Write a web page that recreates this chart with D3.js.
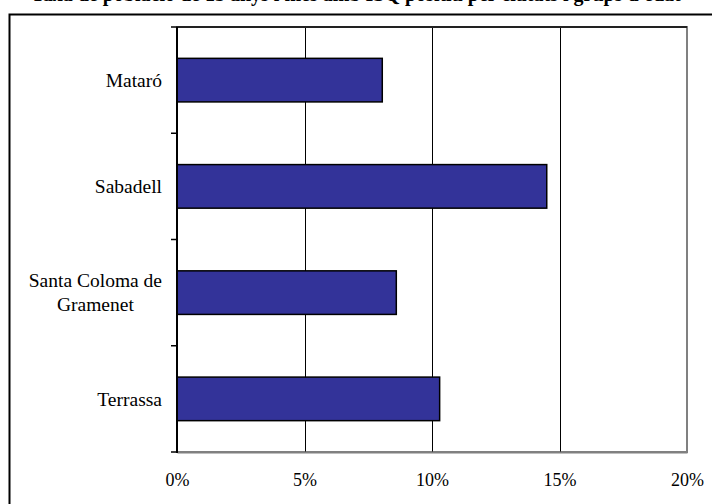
<!DOCTYPE html>
<html>
<head>
<meta charset="utf-8">
<script src="https://cdn.jsdelivr.net/npm/d3@7"></script>
<style>
  html, body { margin: 0; padding: 0; background: #fff; overflow: hidden; }
  svg { display: block; }
  text { font-family: "Liberation Serif", "Times New Roman", serif; }
</style>
</head>
<body>
<svg id="chart" width="712" height="504"></svg>
<script>
const title = "Taxa de població de 15 anys i més amb ISQ positiu per ciutats i grups d'edat";
const categories = ["Mataró", "Sabadell", "Santa Coloma de Gramenet", "Terrassa"];
const categoryLines = [["Mataró"], ["Sabadell"], ["Santa Coloma de", "Gramenet"], ["Terrassa"]];
const values = [8.05, 14.5, 8.6, 10.3];
const xTicks = [0, 5, 10, 15, 20];
const xTickLabels = ["0%", "5%", "10%", "15%", "20%"];

const svg = d3.select("#chart");
const plot = { left: 177, right: 687, top: 27, bottom: 452 };

// title (cut off at top of picture, as in the reference)
svg.append("text")
  .attr("x", 356).attr("y", 1)
  .attr("text-anchor", "middle")
  .attr("font-size", 20).attr("font-weight", "bold")
  .text(title);

// outer frame
svg.append("rect")
  .attr("x", 9.5).attr("y", 14.5)
  .attr("width", 720).attr("height", 520)
  .attr("fill", "none").attr("stroke", "#000").attr("stroke-width", 2);

const x = d3.scaleLinear().domain([0, 20]).range([plot.left, plot.right]);
const y = d3.scaleBand().domain(categories).range([plot.top, plot.bottom]).paddingInner(0).paddingOuter(0);

// plot area border
svg.append("rect")
  .attr("x", plot.left).attr("y", plot.top)
  .attr("width", plot.right - plot.left).attr("height", plot.bottom - plot.top)
  .attr("fill", "#fff").attr("stroke", "#808080").attr("stroke-width", 2);

// gridlines
svg.append("g").selectAll("line")
  .data(xTicks.filter(d => d > 0 && d < 20))
  .join("line")
  .attr("x1", d => Math.round(x(d)) + 0.5).attr("x2", d => Math.round(x(d)) + 0.5)
  .attr("y1", plot.top).attr("y2", plot.bottom)
  .attr("stroke", "#000").attr("stroke-width", 1);

// top border darker
svg.append("line")
  .attr("x1", plot.left).attr("x2", plot.right)
  .attr("y1", plot.top).attr("y2", plot.top)
  .attr("stroke", "#222").attr("stroke-width", 2);

// bars
const barH = y.bandwidth() * 0.41;
svg.append("g").selectAll("rect")
  .data(categories)
  .join("rect")
  .attr("x", x(0))
  .attr("y", (d) => y(d) + y.bandwidth() / 2 - barH / 2)
  .attr("width", (d, i) => x(values[i]) - x(0))
  .attr("height", barH)
  .attr("fill", "#333399")
  .attr("stroke", "#000").attr("stroke-width", 1.5);

// x axis (no ticks), labels
const xAxis = d3.axisBottom(x).tickValues(xTicks)
  .tickFormat((d, i) => xTickLabels[i]).tickSize(0).tickPadding(21);
const gx = svg.append("g").attr("transform", `translate(0,${plot.bottom})`).call(xAxis);
gx.select(".domain").attr("stroke", "#808080").attr("stroke-width", 2);
gx.selectAll("text").attr("font-family", "Liberation Serif, serif").attr("font-size", 18).attr("fill", "#000");

// y axis: category boundary ticks
const bounds = categories.map(c => y(c)).concat([plot.bottom]);
svg.append("line")
  .attr("x1", plot.left).attr("x2", plot.left)
  .attr("y1", plot.top).attr("y2", plot.bottom + 1)
  .attr("stroke", "#000").attr("stroke-width", 2);
svg.append("g").selectAll("line")
  .data(bounds)
  .join("line")
  .attr("x1", plot.left - 6).attr("x2", plot.left)
  .attr("y1", d => d).attr("y2", d => d)
  .attr("stroke", "#000").attr("stroke-width", 1.5);

// category labels
const lab = svg.append("g");
categories.forEach((c, i) => {
  const lines = categoryLines[i];
  const cy = y(c) + y.bandwidth() / 2;
  const lh = 24;
  const t = lab.append("text")
    .attr("font-size", 19.5).attr("fill", "#000")
    .attr("text-anchor", "middle");
  lines.forEach((l, j) => {
    t.append("tspan").attr("x", 0)
      .attr("y", cy + (j - (lines.length - 1) / 2) * lh)
      .attr("dy", "0.35em").text(l);
  });
  const w = d3.max(t.selectAll("tspan").nodes(), n => n.getComputedTextLength());
  t.selectAll("tspan").attr("x", 162 - w / 2);
});
</script>
</body>
</html>
